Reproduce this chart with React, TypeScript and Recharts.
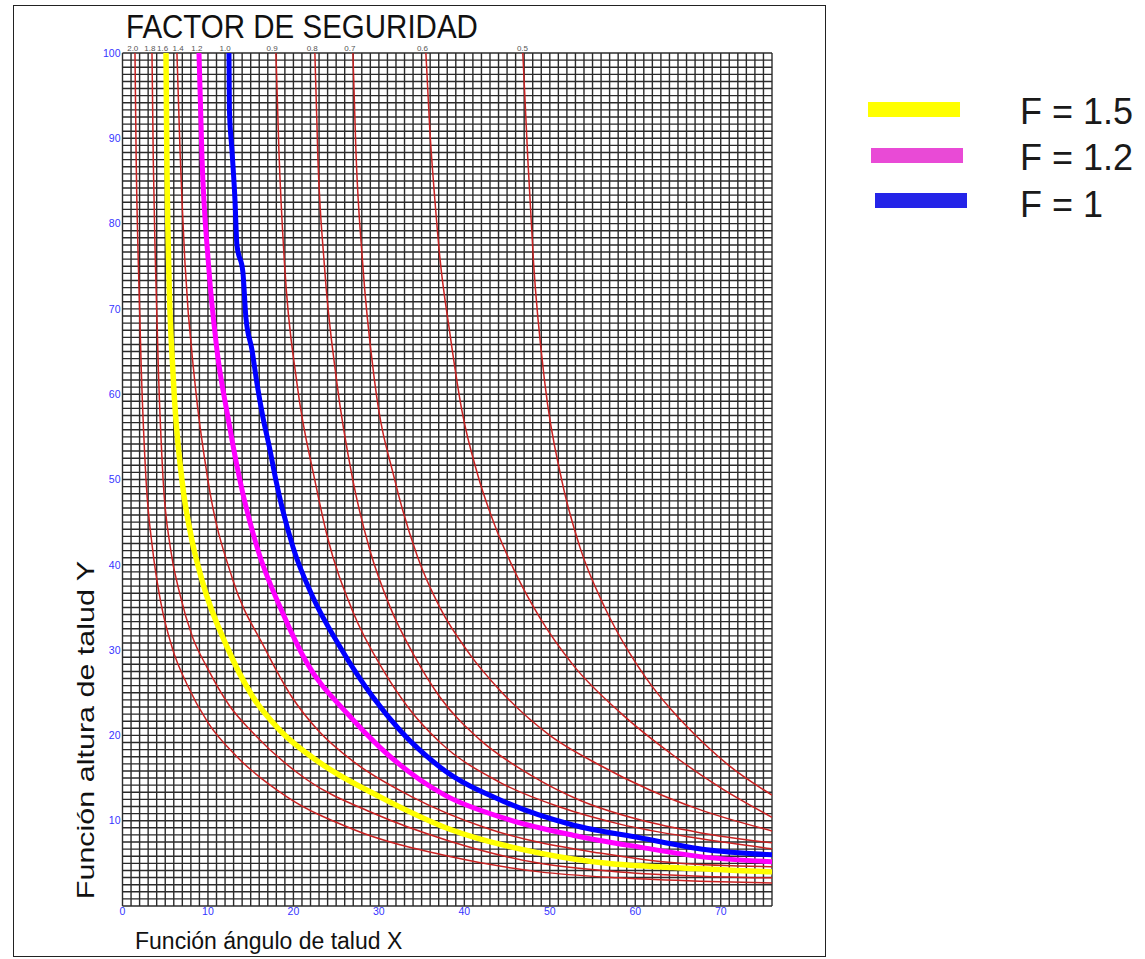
import React from 'react';
import { LineChart, Line, XAxis, YAxis, CartesianGrid } from 'recharts';

// axis labels
const xLabelTicks = [0, 10, 20, 30, 40, 50, 60, 70];
const yLabelTicks = [10, 20, 30, 40, 50, 60, 70, 80, 90, 100];

// graph-paper grid (1 unit across, 120 rows up)
const xGridTicks = Array.from({ length: 77 }, (_, i) => i);
const yGridTicks = Array.from({ length: 121 }, (_, i) => (i * 100) / 120);

// factor labels printed above the plot
const topLabels = ['2.0', '1.8', '1.6', '1.4', '1.2', '1.0', '0.9', '0.8', '0.7', '0.6', '0.5'];
const topLabelX = [1.2, 3.2, 4.7, 6.5, 8.7, 12.0, 17.5, 22.2, 26.6, 35.1, 46.8];

// red factor curves, [X, Y]
const curve20: [number, number][] = [
  [1.46, 100], [1.6, 87.5], [1.85, 75.4], [2.2, 62.8], [2.75, 50], [3.5, 42], [4.5, 35.5],
  [5.9, 30], [7.54, 26.0], [10, 21.5], [13.39, 17.5], [19.24, 12.8], [26.96, 9.0], [38.3, 5.8],
  [48.83, 4.0], [58.19, 3.3], [67.54, 2.9], [76, 2.7],
];
const curve18: [number, number][] = [
  [3.45, 100], [3.6, 87.5], [3.85, 75.4], [4.2, 62.8], [4.75, 50], [5.6, 42], [6.73, 36.5],
  [8.2, 31.5], [9.88, 28.0], [12.5, 23.5], [15.26, 20.3], [21.58, 14.8], [29.3, 10.9],
  [38.3, 7.6], [48.83, 5.0], [58.19, 4.0], [67.54, 3.5], [76, 3.3],
];
const curve14: [number, number][] = [
  [6.37, 100], [6.73, 88.6], [7.31, 75.4], [8.48, 61.3], [10.0, 49.9], [12.92, 38.2],
  [16.55, 30.4], [19.82, 24.5], [22.87, 20.6], [27.19, 16.8], [33.86, 12.8], [42.98, 9.0],
  [55.85, 6.2], [65.2, 5.0], [76, 4.6],
];
const curve09: [number, number][] = [
  [17.95, 100], [18.3, 88.6], [18.95, 75.4], [20.41, 61.3], [22.51, 49.9], [23.92, 43.5],
  [26.96, 34.5], [30.47, 27.7], [33.63, 23.0], [37.13, 19.2], [44.15, 14.5], [51.17, 11.6],
  [58.19, 9.6], [67.54, 7.9], [76, 6.7],
];
const curve08: [number, number][] = [
  [22.51, 100], [22.87, 87.5], [23.6, 75.4], [25.09, 61.3], [26.96, 49.9], [28.95, 41.7],
  [31.29, 35.1], [34.21, 29.2], [37.13, 24.5], [41.81, 19.5], [47.66, 15.4], [53.51, 12.4],
  [60.53, 10.1], [67.54, 8.6], [76, 7.4],
];
const curve07: [number, number][] = [
  [26.96, 100], [27.31, 88.6], [28.1, 75.4], [29.53, 61.3], [31.87, 49.9], [34.5, 41.0],
  [37.13, 35.0], [40.64, 29.5], [44.15, 25.3], [50.0, 20.0], [55.85, 16.5], [61.7, 13.6],
  [67.54, 11.3], [76, 8.8],
];
const curve06: [number, number][] = [
  [35.5, 100], [35.96, 91.0], [36.55, 82.8], [37.13, 76.1], [38.3, 67.2], [39.71, 58.1],
  [41.58, 50.5], [43.57, 44.6], [45.91, 39.2], [48.83, 33.8], [52.69, 28.3], [58.54, 22.4],
  [64.39, 17.7], [70.23, 13.7], [76, 10.4],
];
const curve05: [number, number][] = [
  [46.84, 100], [47.43, 87.5], [48.1, 75.4], [49.42, 61.3], [51.4, 49.9], [53.51, 42.1],
  [56.43, 35.0], [59.12, 30.0], [61.35, 26.6], [64.04, 23.2], [66.96, 20.1], [71.05, 16.4],
  [76, 13.0],
];

// highlighted safety factors
const f15: [number, number][] = [
  [5.09, 100], [5.18, 88.6], [5.4, 75.4], [5.91, 62.5], [6.96, 49.9], [8.0, 43.5], [9.3, 38.2],
  [12.22, 30.4], [15.26, 24.5], [18.42, 20.6], [23.1, 16.8], [30.12, 12.8], [38.3, 9.0],
  [48.83, 6.2], [56.67, 5.0], [64.39, 4.5], [76, 4.0],
];
const f12: [number, number][] = [
  [8.95, 100], [9.3, 87.8], [10.05, 75.4], [11.05, 65.2], [12.34, 57.3], [13.74, 49.9],
  [15.73, 42.1], [18.77, 34.3], [21.58, 28.5], [26.26, 22.6], [30.12, 18.6], [34.8, 14.8],
  [37.72, 13.0], [44.97, 10.2], [52.69, 8.3], [60.53, 6.9], [68.36, 5.7], [76, 5.2],
];
const f10: [number, number][] = [
  [12.46, 100], [12.51, 93.3], [12.81, 88.6], [13.16, 82.8], [13.39, 77.5], [14.09, 74.3],
  [14.44, 69.0], [15.15, 65.2], [15.73, 61.3], [16.43, 57.3], [17.25, 53.5], [17.95, 49.9],
  [19.94, 42.1], [22.28, 36.2], [25.44, 30.4], [29.3, 24.5], [32.46, 20.6], [37.13, 16.3],
  [44.97, 12.1], [52.69, 9.5], [60.53, 8.0], [68.36, 6.6], [76, 6.0],
];

const redCurves = [curve20, curve18, curve14, curve09, curve08, curve07, curve06, curve05];

const legendItems = [
  { label: 'F = 1.5', color: '#ffff00', left: 868, top: 102, textTop: 94 },
  { label: 'F = 1.2', color: '#e94ad6', left: 871, top: 148, textTop: 140 },
  { label: 'F = 1', color: '#2424e8', left: 875, top: 193, textTop: 187 },
];

const toPts = (c: [number, number][]) => c.map(([x, y]) => ({ x, y }));

const isWhole = (v: number) => Math.abs(v - Math.round(v)) < 1e-6;
const fmtX = (v: number) => (isWhole(v) && xLabelTicks.includes(Math.round(v)) ? String(Math.round(v)) : '');
const fmtY = (v: number) => (isWhole(v) && yLabelTicks.includes(Math.round(v)) ? String(Math.round(v)) : '');
const fmtTop = (v: number) => {
  const i = topLabelX.findIndex((t) => Math.abs(t - v) < 1e-6);
  return i >= 0 ? topLabels[i] : '';
};

export default function App() {
  return (
    <div style={{ position: 'absolute', left: 0, top: 0, width: 1145, height: 959, background: '#fff', fontFamily: '"Liberation Sans", Arial, sans-serif' }}>
      <LineChart width={800} height={940} margin={{ top: 41, right: 28, bottom: 14, left: 92.5 }}>
        <CartesianGrid stroke="#2b2b2b" strokeWidth={1.4} verticalValues={xGridTicks} horizontalValues={yGridTicks} />
        <XAxis
          type="number" dataKey="x" domain={[0, 76]} ticks={xGridTicks} interval={0} allowDataOverflow
          tickFormatter={fmtX} axisLine={false} tickLine={false} tickSize={0} tickMargin={2} height={20}
          tick={{ fill: '#3535ff', fontSize: 10.5 }}
        />
        <XAxis
          xAxisId="top" orientation="top" type="number" dataKey="x" domain={[0, 76]} ticks={topLabelX} interval={0} allowDataOverflow
          tickFormatter={fmtTop} axisLine={false} tickLine={false} tickSize={0} tickMargin={2} height={12}
          tick={{ fill: '#555', fontSize: 8 }}
        />
        <YAxis
          type="number" domain={[0, 100]} ticks={yGridTicks} interval={0} allowDataOverflow
          tickFormatter={fmtY} axisLine={false} tickLine={false} tickSize={0} tickMargin={2} width={30}
          tick={{ fill: '#3535ff', fontSize: 10.5 }}
        />
        {redCurves.map((c, i) => (
          <Line key={i} xAxisId="top" data={toPts(c)} dataKey="y" type="monotone" stroke="#c92222" strokeWidth={1.5} dot={false} isAnimationActive={false} />
        ))}
        <Line data={toPts(f15)} dataKey="y" type="monotone" stroke="#ffff00" strokeWidth={5.5} dot={false} isAnimationActive={false} />
        <Line data={toPts(f12)} dataKey="y" type="monotone" stroke="#ff00ff" strokeWidth={5} dot={false} isAnimationActive={false} />
        <Line data={toPts(f10)} dataKey="y" type="monotone" stroke="#0000ff" strokeWidth={5} dot={false} isAnimationActive={false} />
      </LineChart>

      <div style={{ position: 'absolute', left: 13, top: 5, width: 813, height: 952, border: '1.5px solid #222', boxSizing: 'border-box', pointerEvents: 'none' }} />

      <div style={{ position: 'absolute', left: 126, top: 8.6, fontSize: 29.5, lineHeight: 1, whiteSpace: 'nowrap', transform: 'scaleY(1.14)', transformOrigin: 'top left', color: '#111' }}>
        FACTOR DE SEGURIDAD
      </div>

      <div style={{ position: 'absolute', left: 135, top: 930, fontSize: 23, lineHeight: 1, whiteSpace: 'nowrap', color: '#111' }}>
        Función ángulo de talud X
      </div>

      <div style={{ position: 'absolute', left: 86, top: 730, fontSize: 24, lineHeight: 1, whiteSpace: 'nowrap', color: '#111', transform: 'translate(-50%, -50%) rotate(-90deg) scaleX(1.27)' }}>
        Función altura de talud Y
      </div>

      {legendItems.map((it) => (
        <React.Fragment key={it.label}>
          <div style={{ position: 'absolute', left: it.left, top: it.top, width: 92, height: 15, background: it.color }} />
          <div style={{ position: 'absolute', left: 1020, top: it.textTop, fontSize: 36, lineHeight: 1, whiteSpace: 'nowrap', color: '#1a1a1a' }}>
            {it.label}
          </div>
        </React.Fragment>
      ))}
    </div>
  );
}
